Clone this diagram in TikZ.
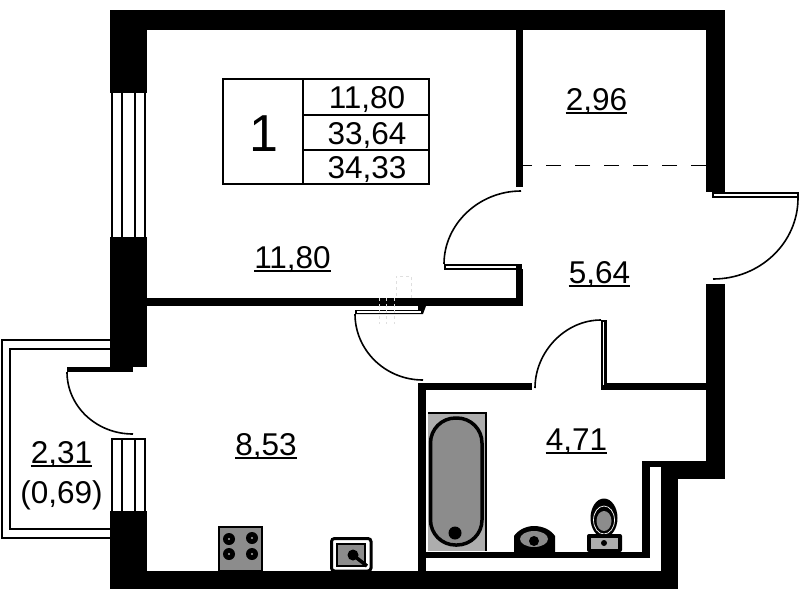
\documentclass[tikz,border=0pt]{standalone}
\usepackage{fontspec}
\setmainfont{Liberation Sans}
\definecolor{fixgrey}{gray}{0.55}
\definecolor{fixlight}{gray}{0.68}
\newcommand{\wallrect}[4]{\fill[black] (#1,#2) rectangle (#3,#4);}
\newcommand{\leaf}[8]{\fill[black] (#1,#2) rectangle (#3,#4);\fill[white] (#5,#6) rectangle (#7,#8);}
\tikzset{
 lbl/.style={inner sep=0pt,anchor=base,font=\fontsize{31.5}{32}\selectfont,text=black},
 bigl/.style={inner sep=0pt,anchor=base,font=\fontsize{52}{52}\selectfont,text=black},
 ul/.style={line width=1.8pt,black},
 thinl/.style={line width=2pt,black},
 swing/.style={line width=1.6pt,black},
 fixture/.style={fill=fixgrey,draw=black},
 ghost/.style={line width=.4pt,gray!25,dashed}
}
\begin{document}
\begin{tikzpicture}[x=1pt,y=-1pt]
\useasboundingbox (0,0) rectangle (799,600);
\fill[white] (0,0) rectangle (799,600);
% balcony
\draw[thinl] (110,340) -- (1.5,340) -- (1.5,538) -- (110,538);
\draw[thinl] (110,349) -- (9.5,349) -- (9.5,529) -- (110,529);
% outer walls
\wallrect{110}{10}{725}{30}
\wallrect{110}{10}{147}{93}
\wallrect{110}{237}{147}{367}
\wallrect{110}{367}{133}{372}
\wallrect{67}{367}{133}{372}
\wallrect{110}{511}{147}{589}
\wallrect{110}{571}{678}{589}
\wallrect{706}{10}{725}{192}
\wallrect{706}{284}{725}{479}
\wallrect{642}{461}{725}{479}
\wallrect{661}{461}{678}{589}
% thin walls
\wallrect{147}{298}{523}{306}
\wallrect{516}{30}{523}{187}
\wallrect{516}{269}{523}{306}
\wallrect{418}{383}{532}{390}
\wallrect{601}{383}{706}{390}
\wallrect{418}{383}{426}{589}
\wallrect{642}{461}{650}{558}
\wallrect{426}{552}{650}{558}
\fill[white] (650,467) rectangle (661,570);
\fill[white] (426,558) rectangle (661,570);
% windows
\foreach \xx in {112,122,135,145}{
 \draw[thinl] (\xx,93) -- (\xx,238);
 \draw[thinl] (\xx,438) -- (\xx,511);
}
\draw[thinl] (111,439) -- (146,439);
% door leaves
\leaf{444}{264}{522}{270}{446}{266}{516}{267.8}
\fill[black] (418,306) -- (426,306) -- (423,314) -- (355,314) -- (355,310) -- (418,310) -- cycle;
\fill[white] (357,311.3) rectangle (421,312.7);
\leaf{601}{320}{606.5}{390}{602.5}{322}{604.3}{385}
\leaf{712}{192}{798.5}{198}{714}{193.7}{797}{196}
% door swings
\draw[swing] (444,264) .. controls (444,224) and (479,191) .. (521,191);
\draw[swing] (355,314) .. controls (355,350) and (385,380) .. (423,380);
\draw[swing] (601,320) .. controls (565,320) and (535,352) .. (535,388);
\draw[swing] (798,198) .. controls (798,243) and (760,279) .. (713,279);
\draw[swing] (67,372) .. controls (67,406) and (96,434) .. (133,434);
% dashed boundary
\draw[line width=1pt,black,dash pattern=on 15pt off 14pt] (706,165) -- (523,165);
% faint ghost marks
\draw[ghost] (379,298) -- (379,324) (386,298) -- (386,324) (394,298) -- (394,324) (411,298) -- (411,276) -- (396,276) -- (396,298);
% info table
\draw[thinl] (223,79) rectangle (429,184);
\draw[thinl] (303,79) -- (303,184);
\draw[thinl] (303,114.5) -- (429,114.5);
\draw[thinl] (303,150) -- (429,150);
\node[bigl] (rooms) at (264,151) {1};
\node[lbl] (liv) at (367,108.5) {11,80};
\node[lbl] (tot) at (367,144) {33,64};
\node[lbl] (all) at (367,178) {34,33};
% room labels
\node[lbl] (a) at (292.5,268) {11,80};
\node[lbl] (b) at (596.5,110) {2,96};
\node[lbl] (c) at (599.5,283) {5,64};
\node[lbl] (d) at (576.5,450) {4,71};
\node[lbl] (e) at (266,455) {8,53};
\node[lbl] (f) at (61.5,463) {2,31};
\node[lbl] (g) at (61.5,503) {(0,69)};
\foreach \n in {a,b,c,d,e,f}{
 \draw[ul] ([yshift=-3pt]\n.base west) -- ([yshift=-3pt]\n.base east);
}
% bath
\fill[fixlight] (428,413) rectangle (486,551);
\draw[line width=1.5pt,black] (428,413) -- (486,413) -- (486,551);
\draw[fixture,line width=3.5pt,rounded corners=25pt] (430.5,418) rectangle (482,545);
\fill[black] (455,533) circle[radius=6.5];
% wash basin
\fill[black] (514,552) -- (514,536) .. controls (518,530) and (526,526) .. (534,526) .. controls (543,526) and (551,530) .. (555,536) -- (555,552) -- cycle;
\fill[fixgrey] (534,539) ellipse[x radius=14,y radius=8];
\fill[black] (534,541) circle[radius=5];
% toilet
\fill[black] (604,518) ellipse[x radius=13.5,y radius=19.5];
\draw[white,line width=.7pt] (604,520) ellipse[x radius=10.5,y radius=14];
\fill[fixgrey] (604,521) ellipse[x radius=7.5,y radius=10];
\fill[black,rounded corners=2pt] (587,534) rectangle (622,552);
\fill[fixlight] (591,538) rectangle (618,549);
\fill[black] (604,543) circle[radius=3];
% stove
\draw[fixture,line width=2pt] (219,527) rectangle (262,571);
\foreach \xx/\yy in {229/539,252/538,229/554,252/554}{
 \fill[black] (\xx,\yy) circle[radius=6];
 \fill[fixlight] (\xx,\yy) circle[radius=1.2];
}
% kitchen sink
\draw[black,line width=3pt,rounded corners=3pt] (331.5,538.5) rectangle (371,571);
\draw[fixture,line width=2.5pt] (337,544) rectangle (365,566);
\fill[black] (353,555) circle[radius=5.5];
\draw[black,line width=3.5pt] (353,555) -- (367,566);
\end{tikzpicture}
\end{document}
